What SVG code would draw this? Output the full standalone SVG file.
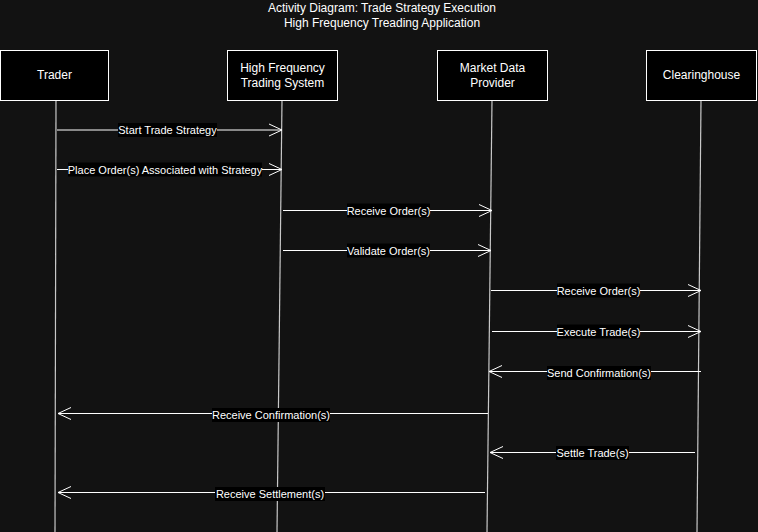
<svg xmlns="http://www.w3.org/2000/svg" width="758" height="532" viewBox="0 0 758 532">
<style>
.bg{fill:#121212}
.box{fill:#000;stroke:#fff;stroke-width:1}
.life{stroke:#c8c8c8;stroke-width:1.2;fill:none}
.msg{stroke:#fff;stroke-width:1;fill:none}
.head{stroke:#fff;stroke-width:1;fill:none}
.nt{font-family:"Liberation Sans",Arial,sans-serif;font-size:12px;fill:#fff;text-anchor:middle}
.lt{font-family:"Liberation Sans",Arial,sans-serif;font-size:11px;fill:#fff;text-anchor:middle}
.lb{fill:#000}
</style>
<rect class="bg" x="0" y="0" width="758" height="532"/>
<g id="title">
<text class="nt" x="382" y="12">Activity Diagram: Trade Strategy Execution</text>
<text class="nt" x="382" y="27">High Frequency Treading Application</text>
</g>
<g id="lifelines">
<line class="life" x1="56" y1="100" x2="55" y2="532"/>
<line class="life" x1="282" y1="100" x2="277" y2="532"/>
<line class="life" x1="492" y1="100" x2="487" y2="532"/>
<line class="life" x1="701" y1="100" x2="697" y2="532"/>
</g>
<g id="trader"><rect class="box" x="0.5" y="50.5" width="108" height="50"/><text class="nt" x="54.5" y="79">Trader</text></g>
<g id="hfts"><rect class="box" x="227.5" y="50.5" width="110" height="50"/><text class="nt" x="282.5" y="72">High Frequency</text><text class="nt" x="282.5" y="87">Trading System</text></g>
<g id="mdp"><rect class="box" x="437.5" y="50.5" width="110" height="50"/><text class="nt" x="492.5" y="72">Market Data</text><text class="nt" x="492.5" y="87">Provider</text></g>
<g id="clearinghouse"><rect class="box" x="646.5" y="50.5" width="110" height="50"/><text class="nt" x="701.5" y="79">Clearinghouse</text></g>
<g id="connectors">
<line class="msg" x1="57" y1="130" x2="282" y2="130"/><polyline class="head" points="269,124 282,130 269,136"/>
<rect class="lb" x="118" y="123" width="99" height="14"/><text class="lt" x="167.5" y="134">Start Trade Strategy</text>

<line class="msg" x1="57" y1="169.5" x2="282" y2="169.5"/><polyline class="head" points="269,163.5 282,169.5 269,175.5"/>
<rect class="lb" x="68" y="162.5" width="194" height="14"/><text class="lt" x="165" y="173.5">Place Order(s) Associated with Strategy</text>

<line class="msg" x1="283" y1="210.5" x2="492" y2="210.5"/><polyline class="head" points="479,204.5 492,210.5 479,216.5"/>
<rect class="lb" x="347" y="203.5" width="83" height="14"/><text class="lt" x="388.5" y="214.5">Receive Order(s)</text>

<line class="msg" x1="283" y1="250.5" x2="491" y2="250.5"/><polyline class="head" points="478,244.5 491,250.5 478,256.5"/>
<rect class="lb" x="347" y="243.5" width="83" height="14"/><text class="lt" x="388.5" y="254.5">Validate Order(s)</text>

<line class="msg" x1="491" y1="290.5" x2="701" y2="290.5"/><polyline class="head" points="688,284.5 701,290.5 688,296.5"/>
<rect class="lb" x="557" y="283.5" width="83" height="14"/><text class="lt" x="598.5" y="294.5">Receive Order(s)</text>

<line class="msg" x1="492" y1="331.5" x2="701" y2="331.5"/><polyline class="head" points="688,325.5 701,331.5 688,337.5"/>
<rect class="lb" x="557" y="324.5" width="83" height="14"/><text class="lt" x="598.5" y="335.5">Execute Trade(s)</text>

<line class="msg" x1="701" y1="371.5" x2="489" y2="371.5"/><polyline class="head" points="502,365.5 489,371.5 502,377.5"/>
<rect class="lb" x="547" y="366" width="104" height="14"/><text class="lt" x="599" y="377">Send Confirmation(s)</text>

<line class="msg" x1="488" y1="413.5" x2="58" y2="413.5"/><polyline class="head" points="71,407.5 58,413.5 71,419.5"/>
<rect class="lb" x="212" y="408" width="118" height="14"/><text class="lt" x="271" y="419">Receive Confirmation(s)</text>

<line class="msg" x1="695" y1="452.5" x2="490" y2="452.5"/><polyline class="head" points="503,446.5 490,452.5 503,458.5"/>
<rect class="lb" x="556" y="446" width="73" height="14"/><text class="lt" x="592.5" y="457">Settle Trade(s)</text>

<line class="msg" x1="485" y1="492.5" x2="58" y2="492.5"/><polyline class="head" points="71,486.5 58,492.5 71,498.5"/>
<rect class="lb" x="215" y="487" width="110" height="14"/><text class="lt" x="270" y="498">Receive Settlement(s)</text>
</g>
</svg>
